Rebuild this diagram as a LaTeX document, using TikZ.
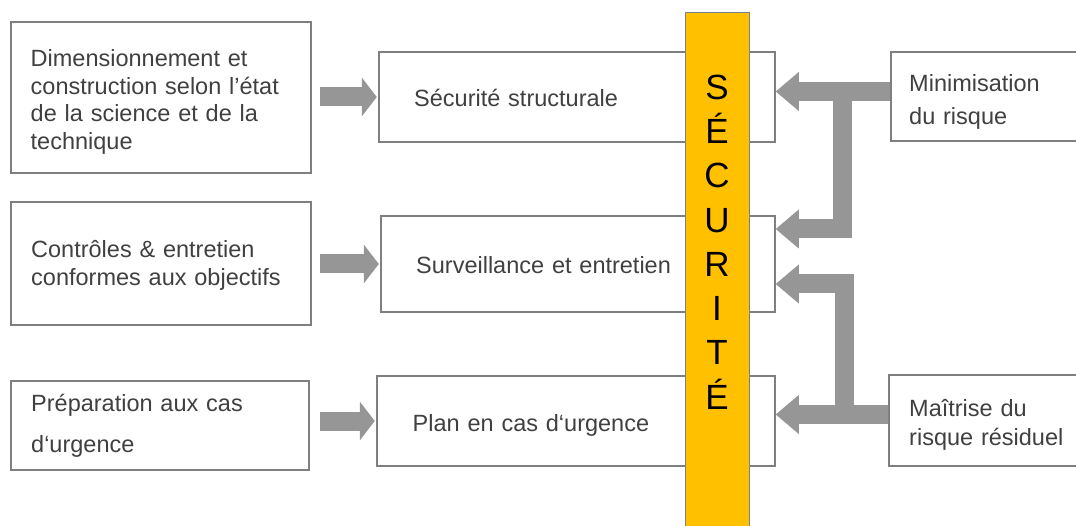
\documentclass[tikz,border=0pt]{standalone}
\usepackage{fontspec}
\setmainfont{Liberation Sans}
\usetikzlibrary{arrows.meta,calc}
\definecolor{boxline}{RGB}{127,127,127}
\definecolor{txt}{RGB}{64,64,64}
\definecolor{fatgray}{RGB}{150,150,150}
\definecolor{barfill}{RGB}{255,192,0}
\definecolor{barline}{RGB}{120,130,140}
\begin{document}
\begin{tikzpicture}[x=1pt,y=-1pt,
  box/.style={draw=boxline, line width=1.5pt, fill=white, inner sep=0pt},
  lbl/.style={text=txt, align=left, text width=280pt, inner sep=0pt, anchor=base west,
    font=\fontsize{23.5}{27.5}\selectfont},
  fat/.style={draw=fatgray, line width=19pt, line join=miter,
    -{Triangle[length=#1, width=39pt, line width=0pt]}},
  fat/.default=23pt]
\useasboundingbox (0,0) rectangle (1076,526);

% left column: means
\node[box, minimum width=300pt, minimum height=151pt] (L1) at (161,97.5) {};
\node[box, minimum width=300pt, minimum height=123pt] (L2) at (161,263.5) {};
\node[box, minimum width=298pt, minimum height=89pt]  (L3) at (160,425.5) {};
\node[lbl] (L1t) at (30.5,66.7) {Dimensionnement et\\construction selon l’état\\de la science et de la\\technique};
\node[lbl] (L2t) at (31,257.7) {Contrôles \& entretien\\conformes aux objectifs};
\node[lbl] (L3t) at (31,411.7) {Préparation aux cas\\[13.5pt]d‘urgence};

% middle column: goals
\node[box, minimum width=396pt, minimum height=90pt] (M1) at (577,97) {};
\node[box, minimum width=394pt, minimum height=96pt] (M2) at (578,264) {};
\node[box, minimum width=398pt, minimum height=90pt] (M3) at (576,421) {};
\node[lbl] (M1t) at (414,106.5) {Sécurité structurale};
\node[lbl] (M2t) at (416,273.3) {Surveillance et entretien};
\node[lbl] (M3t) at (412.5,431.7) {Plan en cas d‘urgence};

% right column: risk handling
\node[box, minimum width=209pt, minimum height=89pt] (R1) at (995.5,96.5) {};
\node[box, minimum width=211pt, minimum height=91pt] (R2) at (994.5,420.5) {};
\node[lbl] (R1t) at (909,91.7) {Minimisation\\[5.1pt]du risque};
\node[lbl] (R2t) at (909,416.7) {Maîtrise du\\[0.8pt]risque résiduel};

% vertical safety bar
\node[draw=barline, fill=barfill, line width=1pt, minimum width=64pt, minimum height=527pt,
  inner sep=0pt] (bar) at (717,276.5) {};
\node[font=\fontsize{35}{44.3}\selectfont, align=center, inner sep=0pt, text=black]
  (sec) at (717,242) {S\\É\\C\\U\\R\\I\\T\\É};

% arrows from means to goals
\draw[fat=15pt] ($(L1.east |- M1.west)+(8.5,0)$) -- ($(M1.west)+(-1.5,0)$);
\draw[fat=15pt] ($(L2.east |- M2.west)+(8.5,0)$) -- ($(M2.west)+(-1.5,0)$);
\draw[fat=15pt] ($(L3.east |- M3.west)+(10.5,0)$) -- ($(M3.west)+(-1.5,0)$);

% forked arrows from the right column
\coordinate (j1) at (842,91.5);
\coordinate (j2) at (844,414.5);
\draw[fat] (R1.west |- j1) -- (M1.east |- j1);
\draw[fat] (j1) |- (M2.east |- 0,229);
\draw[fat] (R2.west |- j2) -- (M3.east |- j2);
\draw[fat] (j2) |- (M2.east |- 0,284);
\end{tikzpicture}
\end{document}
